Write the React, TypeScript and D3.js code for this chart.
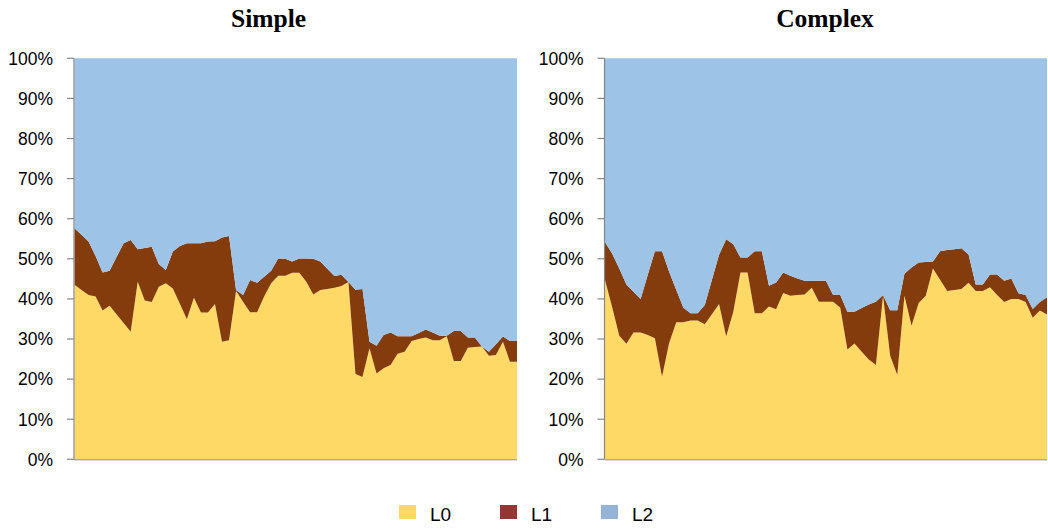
import React from "react";
import * as d3 from "d3";

const yTicks = [0, 10, 20, 30, 40, 50, 60, 70, 80, 90, 100];
const seriesNames = ["L0", "L1", "L2"];
const areaColors = ["#FFD966", "#843C0C", "#9DC3E6"];
const legendColors = ["#FCD865", "#953735", "#95B3D7"];

// Simple: 64 points (percent)
const simpleL0 = [43.5, 42.2, 41.0, 40.6, 37.1, 38.3, 36.1, 34.0, 31.8, 44.3, 39.6, 39.2, 43.0, 43.9, 42.6, 38.8, 34.9, 40.3, 36.6, 36.6, 38.7, 29.3, 29.7, 42.0, 39.3, 36.7, 36.7, 40.6, 43.9, 45.8, 45.8, 46.5, 46.5, 44.3, 41.1, 42.2, 42.5, 42.8, 43.2, 44.2, 21.3, 20.5, 27.7, 21.4, 22.7, 23.5, 26.3, 26.8, 29.5, 30.0, 30.4, 29.7, 29.7, 30.7, 24.5, 24.5, 27.8, 28.0, 28.1, 25.8, 26.0, 29.3, 24.3, 24.3];
const simpleL1 = [14.1, 13.8, 13.3, 10.1, 9.5, 8.7, 14.4, 19.9, 22.9, 8.1, 13.1, 13.8, 5.7, 3.3, 9.2, 14.4, 19.0, 13.6, 17.3, 17.7, 15.7, 26.0, 26.0, 0.2, 1.7, 8.0, 7.3, 4.9, 3.1, 4.3, 4.2, 2.8, 3.6, 5.8, 8.9, 7.1, 5.0, 2.9, 2.8, 0.0, 21.0, 22.0, 1.6, 6.9, 8.3, 8.1, 4.4, 3.9, 1.2, 1.5, 2.0, 1.9, 1.1, 0.1, 7.5, 7.5, 2.6, 2.4, 0.0, 1.0, 2.7, 1.3, 5.2, 5.2];

// Complex: 63 points (percent)
const complexL0 = [44.7, 38.0, 30.8, 28.8, 31.6, 31.6, 31.0, 30.2, 20.6, 29.0, 34.2, 34.2, 34.6, 34.6, 33.7, 36.2, 38.7, 30.6, 36.8, 46.6, 46.6, 36.4, 36.4, 38.1, 37.4, 41.5, 40.8, 41.0, 41.1, 42.8, 39.3, 39.3, 39.3, 37.8, 27.4, 28.9, 26.8, 24.9, 23.5, 40.8, 25.8, 21.0, 40.8, 33.3, 39.0, 40.8, 47.6, 44.8, 42.0, 42.2, 42.5, 44.0, 42.0, 42.0, 42.9, 41.0, 39.2, 40.0, 40.0, 39.2, 35.3, 37.1, 36.1];
const complexL1 = [9.4, 13.3, 16.8, 14.8, 10.2, 8.4, 15.0, 21.7, 31.3, 17.8, 8.0, 3.6, 1.8, 1.8, 4.8, 8.6, 12.3, 24.3, 16.8, 3.7, 3.7, 15.5, 15.5, 5.2, 6.7, 5.1, 5.0, 4.1, 3.4, 1.7, 5.2, 5.2, 1.7, 3.2, 9.4, 7.9, 10.9, 13.7, 15.8, 0.2, 11.4, 16.2, 5.5, 14.5, 10.1, 8.4, 1.7, 7.1, 10.2, 10.2, 10.1, 7.1, 1.6, 1.6, 3.2, 5.1, 5.3, 5.1, 1.4, 1.8, 2.2, 2.1, 4.3];

const TOP = 58.3;
const BOTTOM = 459.3;

type PanelProps = {
  title: string;
  titleX: number;
  l0: number[];
  l1: number[];
  left: number;
  right: number;
};

function Panel({ title, titleX, l0, l1, left, right }: PanelProps) {
  const rows = l0.map((v, i) => ({ L0: v, L1: l1[i], L2: 100 - v - l1[i] }));
  const stack = d3.stack<any>().keys(seriesNames);
  const layers = stack(rows);
  const x = d3.scaleLinear().domain([0, rows.length - 1]).range([left, right]);
  const y = d3.scaleLinear().domain([0, 100]).range([BOTTOM, TOP]);
  const area = d3
    .area<any>()
    .x((_, i) => x(i))
    .y0((d) => y(d[0]))
    .y1((d) => y(d[1]))
    .curve(d3.curveLinear);
  const axisX = left - 0.5;
  return (
    <g>
      <text
        x={titleX}
        y={27}
        textAnchor="middle"
        fontFamily="'Liberation Serif', 'Times New Roman', serif"
        fontWeight="bold"
        fontSize={25.5}
        fill="#000"
      >
        {title}
      </text>
      {layers.map((layer, k) => (
        <path key={k} d={area(layer as any) || ""} fill={areaColors[k]} stroke="none" />
      ))}
      <line x1={axisX} x2={axisX} y1={TOP} y2={BOTTOM} stroke="#868686" strokeWidth={1.2} />
      <line x1={axisX} x2={right} y1={BOTTOM + 0.5} y2={BOTTOM + 0.5} stroke="#868686" strokeWidth={1} />
      {yTicks.map((t) => (
        <g key={t}>
          <line x1={axisX - 7} x2={axisX} y1={y(t)} y2={y(t)} stroke="#868686" strokeWidth={1.2} />
          <text
            x={axisX - 21}
            y={y(t)}
            dy="0.36em"
            textAnchor="end"
            fontFamily="'Liberation Sans', Arial, sans-serif"
            fontSize={17.5}
            fill="#000"
          >
            {`${t}%`}
          </text>
        </g>
      ))}
    </g>
  );
}

export default function App() {
  const legendX = [399, 500, 601];
  return (
    <svg
      width={1048}
      height={529}
      style={{ position: "absolute", left: 0, top: 0, background: "#fff" }}
    >
      <rect x={0} y={0} width={1048} height={529} fill="#fff" />
      <Panel title="Simple" titleX={268.5} l0={simpleL0} l1={simpleL1} left={74.5} right={517} />
      <Panel title="Complex" titleX={825} l0={complexL0} l1={complexL1} left={605} right={1047} />
      {seriesNames.map((n, i) => (
        <g key={n}>
          <rect x={legendX[i]} y={505} width={17} height={14} fill={legendColors[i]} />
          <text
            x={legendX[i] + 31}
            y={521}
            fontFamily="'Liberation Sans', Arial, sans-serif"
            fontSize={19}
            fill="#000"
          >
            {n}
          </text>
        </g>
      ))}
    </svg>
  );
}
